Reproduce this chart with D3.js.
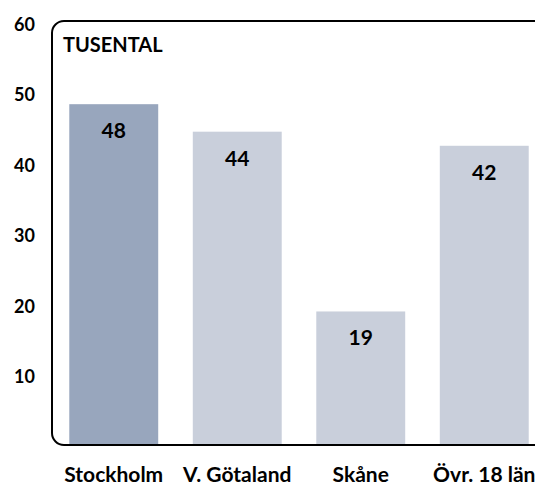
<!DOCTYPE html>
<html>
<head>
<meta charset="utf-8">
<script src="https://cdn.jsdelivr.net/npm/d3@7"></script>
<style>
  body { margin: 0; background: #fff; }
  svg { display: block; }
  text { font-family: Lato, "Open Sans", sans-serif; font-weight: bold; fill: #000; }
</style>
</head>
<body>
<div id="chart"></div>
<script>
// data
const categories = ['Stockholm', 'V. Götaland', 'Skåne', 'Övr. 18 län'];
const values = [48.2, 44.3, 18.8, 42.3];
const barColors = ['#98a6bd', '#c9cfdb', '#c9cfdb', '#c9cfdb'];
const yTicks = [10, 20, 30, 40, 50, 60];
const unitLabel = 'TUSENTAL';

const width = 535, height = 486;
const font = 'Lato, "Open Sans", sans-serif';

const svg = d3.select('#chart').append('svg')
  .attr('width', width)
  .attr('height', height);

const x = d3.scaleBand()
  .domain(categories)
  .range([52, 546])
  .paddingInner(0.28)
  .paddingOuter(0.14);

const y = d3.scaleLinear()
  .domain([0, 60])
  .range([444, 21]);

// bars
svg.selectAll('.bar')
  .data(categories)
  .enter()
  .append('rect')
  .attr('class', 'bar')
  .attr('x', d => x(d))
  .attr('width', x.bandwidth())
  .attr('y', (d, i) => y(values[i]))
  .attr('height', (d, i) => y(0) - y(values[i]))
  .style('fill', (d, i) => barColors[i]);

// value labels
svg.selectAll('.val')
  .data(categories)
  .enter()
  .append('text')
  .attr('class', 'val')
  .attr('x', d => x(d) + x.bandwidth() / 2)
  .attr('y', (d, i) => y(values[i]) + 34)
  .attr('text-anchor', 'middle')
  .style('font-size', '21px')
  .text((d, i) => d3.format('.0f')(values[i]));

// frame with rounded corners, right side runs off the edge
svg.append('rect')
  .attr('x', 52)
  .attr('y', y(60))
  .attr('width', 560)
  .attr('height', 445 - y(60))
  .attr('rx', 12)
  .style('fill', 'none')
  .style('stroke', '#000')
  .style('stroke-width', 2);

// y axis
const yAxis = svg.append('g')
  .attr('transform', 'translate(35,0)')
  .call(d3.axisLeft(y).tickValues(yTicks).tickSize(0).tickPadding(0));
yAxis.select('.domain').remove();
yAxis.selectAll('text')
  .attr('dy', '0.5em')
  .style('font-family', font)
  .style('font-weight', 'bold')
  .style('font-size', '18px')
  .style('fill', '#000');

// x axis labels
const xAxis = svg.append('g')
  .attr('transform', 'translate(0,482)')
  .call(d3.axisBottom(x).tickSize(0).tickPadding(0));
xAxis.select('.domain').remove();
xAxis.selectAll('text')
  .attr('dy', 0)
  .attr('y', 0)
  .style('font-family', font)
  .style('font-weight', 'bold')
  .style('font-size', '21px')
  .style('fill', '#000');

// unit label
svg.append('text')
  .attr('x', 63)
  .attr('y', 52)
  .style('font-size', '20px')
  .text(unitLabel);
</script>
</body>
</html>
